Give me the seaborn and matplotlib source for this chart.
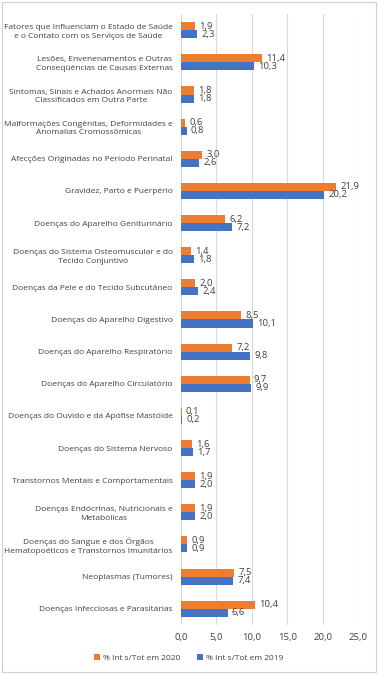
import matplotlib
matplotlib.use("Agg")
import matplotlib.pyplot as plt
import seaborn as sns
import pandas as pd
from matplotlib.patches import Rectangle

categories = [
    "Fatores que Influenciam o Estado de Saúde\ne o Contato com os Serviços de Saúde",
    "Lesões, Envenenamentos e Outras\nConseqüências de Causas Externas",
    "Sintomas, Sinais e Achados Anormais Não\nClassificados em Outra Parte",
    "Malformações Congênitas, Deformidades e\nAnomalias Cromossômicas",
    "Afecções Originadas no Período Perinatal",
    "Gravidez, Parto e Puerpério",
    "Doenças do Aparelho Geniturinário",
    "Doenças do Sistema Osteomuscular e do\nTecido Conjuntivo",
    "Doenças da Pele e do Tecido Subcutâneo",
    "Doenças do Aparelho Digestivo",
    "Doenças do Aparelho Respiratório",
    "Doenças do Aparelho Circulatório",
    "Doenças do Ouvido e da Apófise Mastóide",
    "Doenças do Sistema Nervoso",
    "Transtornos Mentais e Comportamentais",
    "Doenças Endócrinas, Nutricionais e\nMetabólicas",
    "Doenças do Sangue e dos Órgãos\nHematopoéticos e Transtornos Imunitários",
    "Neoplasmas (Tumores)",
    "Doenças Infecciosas e Parasitárias",
]
vals_2020 = [1.9, 11.4, 1.8, 0.6, 3.0, 21.9, 6.2, 1.4, 2.0, 8.5, 7.2, 9.7, 0.1, 1.6, 1.9, 1.9, 0.9, 7.5, 10.4]
vals_2019 = [2.3, 10.3, 1.8, 0.8, 2.6, 20.2, 7.2, 1.8, 2.4, 10.1, 9.8, 9.9, 0.2, 1.7, 2.0, 2.0, 0.9, 7.4, 6.6]
series = ["% Int s/Tot em 2020", "% Int s/Tot em 2019"]
xticks = [0, 5, 10, 15, 20, 25]

df = pd.DataFrame({
    "cat": categories * 2,
    "val": vals_2020 + vals_2019,
    "serie": [series[0]] * len(categories) + [series[1]] * len(categories),
})

sns.set_theme(style="white")
plt.rcParams['font.family'] = ['Open Sans', 'DejaVu Sans']
fs = 6.0
fs_num = 6.8
tc = "#404040"

fig = plt.figure(figsize=(3.78, 6.74), dpi=100)
ax = fig.add_axes([0.479, 0.073, 0.468, 0.906])

sns.barplot(data=df, y="cat", x="val", hue="serie", hue_order=series,
            palette=["#ED7D31", "#4472C4"], orient="h", width=0.5,
            saturation=1, ax=ax, legend=True, linewidth=0)

for cont in ax.containers:
    ax.bar_label(cont, labels=[f"{v:.1f}".replace(".", ",") for v in cont.datavalues],
                 padding=3, fontsize=fs_num, color=tc)

ax.set_xlim(0, 25)
ax.set_xticks(xticks)
ax.set_xticklabels([f"{t:.1f}".replace(".", ",") for t in xticks], fontsize=fs_num, color=tc)
ax.tick_params(axis="y", labelsize=fs, colors=tc, length=0, pad=6)
ax.tick_params(axis="x", length=0, pad=6)
for lab in ax.get_yticklabels():
    lab.set_multialignment("center")
    lab.set_linespacing(1.3)
ax.set_xlabel("")
ax.set_ylabel("")
ax.grid(axis="x", color="#d9d9d9", linewidth=0.8)
ax.set_axisbelow(True)
for s in ax.spines.values():
    s.set_visible(False)

ax.legend(loc="center", bbox_to_anchor=(0.5, 0.024), bbox_transform=fig.transFigure,
          ncol=2, frameon=False, fontsize=fs, handlelength=0.7, handleheight=0.7,
          handletextpad=0.4, columnspacing=2.0, labelcolor=tc)

fig.patches.append(Rectangle((0.005, 0.003), 0.99, 0.994, transform=fig.transFigure,
                             fill=False, edgecolor="#d0d0d0", linewidth=0.8))

fig.savefig("out.png", dpi=100)
